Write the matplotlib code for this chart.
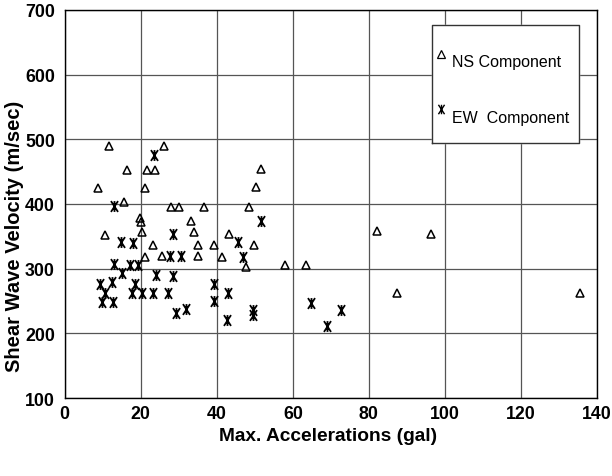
import matplotlib
matplotlib.use("Agg")
import matplotlib.pyplot as plt
from matplotlib.path import Path

# NS component: (max acceleration [gal], shear wave velocity [m/sec])
ns_acc = [8.8, 11.6, 10.6, 15.6, 16.3, 19.7, 20.1, 20.3, 21.0, 21.2, 21.6, 23.2,
          23.8, 25.6, 26.2, 28.0, 30.1, 33.2, 34.0, 35.1, 35.1, 36.7, 39.2, 41.4,
          43.2, 47.8, 48.5, 49.8, 50.4, 51.5, 58.0, 63.5, 82.2, 87.5, 96.4, 135.6]
ns_vel = [425, 490, 352, 403, 452, 378, 372, 356, 425, 318, 452, 336,
          452, 320, 490, 396, 396, 374, 357, 337, 319, 396, 336, 318,
          354, 303, 396, 337, 426, 454, 305, 305, 358, 262, 354, 262]

# EW component
ew_acc = [23.6, 13.0, 14.9, 17.9, 28.6, 27.6, 30.7, 13.0, 17.3, 19.4, 15.2,
          24.0, 28.4, 9.3, 12.4, 18.5, 10.6, 17.6, 20.3, 23.3, 27.1, 9.7,
          12.8, 29.2, 31.8, 39.4, 39.4, 42.9, 42.8, 45.7, 46.9, 51.5, 49.6,
          49.6, 64.9, 69.0, 72.8]
ew_vel = [476, 397, 341, 340, 354, 319, 319, 307, 306, 306, 293,
          290, 289, 276, 279, 276, 263, 263, 263, 263, 263, 248,
          248, 231, 237, 277, 250, 263, 220, 342, 318, 374, 236,
          228, 247, 212, 236]

x_ticks = [0, 20, 40, 60, 80, 100, 120, 140]
y_ticks = [100, 200, 300, 400, 500, 600, 700]

# asterisk-like marker: vertical bar crossed by two steep diagonals
star_verts = [(0, -1), (0, 1), (-0.65, -1), (0.65, 1), (-0.65, 1), (0.65, -1)]
star_codes = [Path.MOVETO, Path.LINETO, Path.MOVETO, Path.LINETO,
              Path.MOVETO, Path.LINETO]
star_marker = Path(star_verts, star_codes)

plt.rcParams['font.family'] = ['Liberation Sans', 'DejaVu Sans']

fig = plt.figure(figsize=(6.12, 4.77), dpi=100)
ax = fig.add_axes([0.1057, 0.1635, 0.8698, 0.8135])

ax.plot(ns_acc, ns_vel, linestyle='none', marker='^', markersize=6.4,
        markerfacecolor='none', markeredgecolor='black', markeredgewidth=1.1,
        zorder=3)
ax.plot(ew_acc, ew_vel, linestyle='none', marker=star_marker, markersize=7.8,
        markeredgecolor='black', markeredgewidth=1.3, zorder=3)

ax.set_xlim(0, 140)
ax.set_ylim(100, 700)
ax.set_xticks(x_ticks)
ax.set_yticks(y_ticks)
ax.set_xticklabels([str(v) for v in x_ticks], fontsize=12.8, fontweight='bold')
ax.set_yticklabels([str(v) for v in y_ticks], fontsize=12.8, fontweight='bold')
ax.tick_params(axis='y', length=0, pad=7)
ax.tick_params(axis='x', length=0, pad=5)

ax.grid(True, color='#555555', linewidth=0.9)
ax.set_axisbelow(True)
for s in ax.spines.values():
    s.set_color('black')
    s.set_linewidth(1.0)

ax.set_xlabel('Max. Accelerations (gal)', fontsize=13.8, fontweight='bold')
ax.set_ylabel('Shear Wave Velocity (m/sec)', fontsize=14.5, fontweight='bold')
ax.xaxis.set_label_coords(0.4955, -0.075)
ax.yaxis.set_label_coords(-0.076, 0.42)

# legend box
leg_left, leg_right = 96.5, 135.3
leg_top, leg_bot = 677, 494.5
ax.fill([leg_left, leg_right, leg_right, leg_left],
        [leg_bot, leg_bot, leg_top, leg_top], color='white', zorder=4)
ax.plot([leg_left, leg_right, leg_right, leg_left, leg_left],
        [leg_bot, leg_bot, leg_top, leg_top, leg_bot], color='#333333',
        linewidth=1.0, zorder=5)
ax.plot([99.1], [632], linestyle='none', marker='^', markersize=5.8,
        markerfacecolor='none', markeredgecolor='black', markeredgewidth=0.9,
        zorder=6)
ax.plot([98.9], [547], linestyle='none', marker=star_marker, markersize=6.8,
        markeredgecolor='black', markeredgewidth=1.0, zorder=6)
ax.text(101.9, 621, 'NS Component', fontsize=11.5, va='center', ha='left',
        zorder=6)
ax.text(101.9, 534, 'EW  Component', fontsize=11.5, va='center', ha='left',
        zorder=6)

fig.savefig('out.png', dpi=100)
